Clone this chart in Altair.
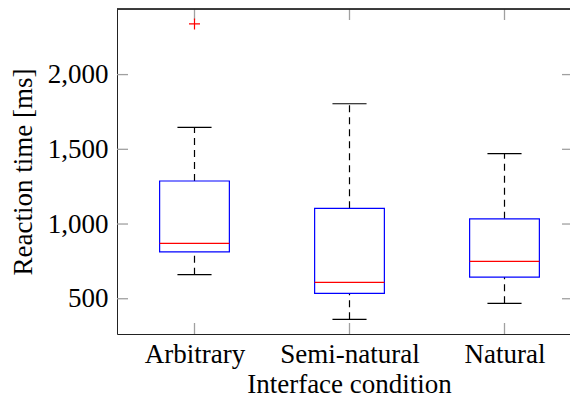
import json
import altair as alt
import pandas as pd

categories = ["Arbitrary", "Semi-natural", "Natural"]
whisker_low = [661, 362, 469]
q1 = [813, 536, 645]
median = [871, 610, 750]
q3 = [1288, 1105, 1035]
whisker_high = [1647, 1805, 1471]
outlier_category = ["Arbitrary"]
outlier_value = [2339]
y_ticks = [500, 1000, 1500, 2000]

FONT = "Liberation Serif"
FS = 27
W, H = 453, 325
XD = [0.5, 0.5 + W / 155.0]
YD = [264, 2439]
BOX_HALF = 0.225
CAP_HALF = 0.11
TICK_COLOR = "#a0a0a0"
FRAME_COLOR = "#222222"

boxes = pd.DataFrame({
    "category": categories,
    "pos": list(range(1, len(categories) + 1)),
    "lo_w": whisker_low, "q1": q1, "med": median, "q3": q3, "hi_w": whisker_high,
})
outliers = pd.DataFrame({
    "category": outlier_category,
    "pos": [categories.index(c) + 1 for c in outlier_category],
    "value": outlier_value,
})
yt = pd.DataFrame({"v": y_ticks})

xs = alt.Scale(domain=XD, nice=False, zero=False)
ys = alt.Scale(domain=YD, nice=False, zero=False)

label_expr = json.dumps(categories) + "[datum.value - 1]"

base = alt.Chart(boxes).transform_calculate(
    bl="datum.pos - %f" % BOX_HALF, br="datum.pos + %f" % BOX_HALF,
    cl="datum.pos - %f" % CAP_HALF, cr="datum.pos + %f" % CAP_HALF,
)

xaxis = alt.Axis(
    values=list(range(1, len(categories) + 1)), labelExpr=label_expr,
    grid=False, ticks=False, tickSize=0, domain=True, domainColor=FRAME_COLOR, domainWidth=1,
    labelFont=FONT, labelFontSize=FS, labelColor="black", labelBaseline="alphabetic",
    labelPadding=28, labelAngle=0,
    title="Interface condition", titleFont=FONT, titleFontSize=FS, titleFontWeight="normal",
    titleColor="black", titleBaseline="alphabetic", titleY=58, titleX=232, titleAlign="center",
)
yaxis = alt.Axis(
    values=y_ticks, format=",d", grid=False, ticks=False, tickSize=0, domain=True,
    domainColor=FRAME_COLOR, domainWidth=1,
    labelFont=FONT, labelFontSize=FS, labelColor="black", labelPadding=9,
    title="Reaction time [ms]", titleFont=FONT, titleFontSize=FS, titleFontWeight="normal",
    titleColor="black", titleAngle=270, titleBaseline="alphabetic", titleAlign="center",
    titleX=-86, titleY=H / 2,
)

# whiskers (dashed)
upper_whisker = base.mark_rule(color="black", strokeWidth=1.2, strokeDash=[7, 5]).encode(
    x=alt.X("pos:Q", scale=xs, axis=xaxis),
    y=alt.Y("q3:Q", scale=ys, axis=yaxis),
    y2="hi_w:Q",
)
lower_whisker = base.mark_rule(color="black", strokeWidth=1.2, strokeDash=[7, 5]).encode(
    x=alt.X("pos:Q", scale=xs), y=alt.Y("lo_w:Q", scale=ys), y2="q1:Q",
)
cap_hi = base.mark_rule(color="black", strokeWidth=1.2).encode(
    x=alt.X("cl:Q", scale=xs), x2="cr:Q", y=alt.Y("hi_w:Q", scale=ys),
)
cap_lo = base.mark_rule(color="black", strokeWidth=1.2).encode(
    x=alt.X("cl:Q", scale=xs), x2="cr:Q", y=alt.Y("lo_w:Q", scale=ys),
)
box = base.mark_rect(fill="white", stroke="#0000ff", strokeWidth=1.2).encode(
    x=alt.X("bl:Q", scale=xs), x2="br:Q", y=alt.Y("q1:Q", scale=ys), y2="q3:Q",
)
med = base.mark_rule(color="#ff0000", strokeWidth=1.2).encode(
    x=alt.X("bl:Q", scale=xs), x2="br:Q", y=alt.Y("med:Q", scale=ys),
)
out = alt.Chart(outliers).mark_point(
    shape="M-1,0L1,0M0,-1L0,1", filled=False, stroke="#ff0000", strokeWidth=1.2, size=121, opacity=1,
).encode(x=alt.X("pos:Q", scale=xs), y=alt.Y("value:Q", scale=ys))

# inside tick marks on all four sides
tick_l = alt.Chart(yt).mark_rule(color=TICK_COLOR, strokeWidth=1.3).encode(
    y=alt.Y("v:Q", scale=ys), x=alt.value(0), x2=alt.value(11),
)
tick_r = alt.Chart(yt).mark_rule(color=TICK_COLOR, strokeWidth=1.3).encode(
    y=alt.Y("v:Q", scale=ys), x=alt.value(W - 8), x2=alt.value(W),
)
tick_b = alt.Chart(boxes).mark_rule(color=TICK_COLOR, strokeWidth=1.3).encode(
    x=alt.X("pos:Q", scale=xs), y=alt.value(H - 11), y2=alt.value(H),
)
tick_t = alt.Chart(boxes).mark_rule(color=TICK_COLOR, strokeWidth=1.3).encode(
    x=alt.X("pos:Q", scale=xs), y=alt.value(0), y2=alt.value(11),
)
top_frame = alt.Chart(boxes).mark_rule(color=FRAME_COLOR, strokeWidth=1).encode(
    x=alt.value(0), x2=alt.value(W), y=alt.value(0),
)

chart = alt.layer(
    tick_l, tick_r, tick_b, tick_t,
    upper_whisker, lower_whisker, cap_hi, cap_lo, box, med, out, top_frame,
).properties(
    width=W, height=H,
    autosize=alt.AutoSizeParams(type="none"),
    padding={"left": 109, "top": 1, "right": 0, "bottom": 65},
).configure_view(stroke=None).configure(background="white")

chart.save("out.html", embed_options={"renderer": "svg", "actions": False})
